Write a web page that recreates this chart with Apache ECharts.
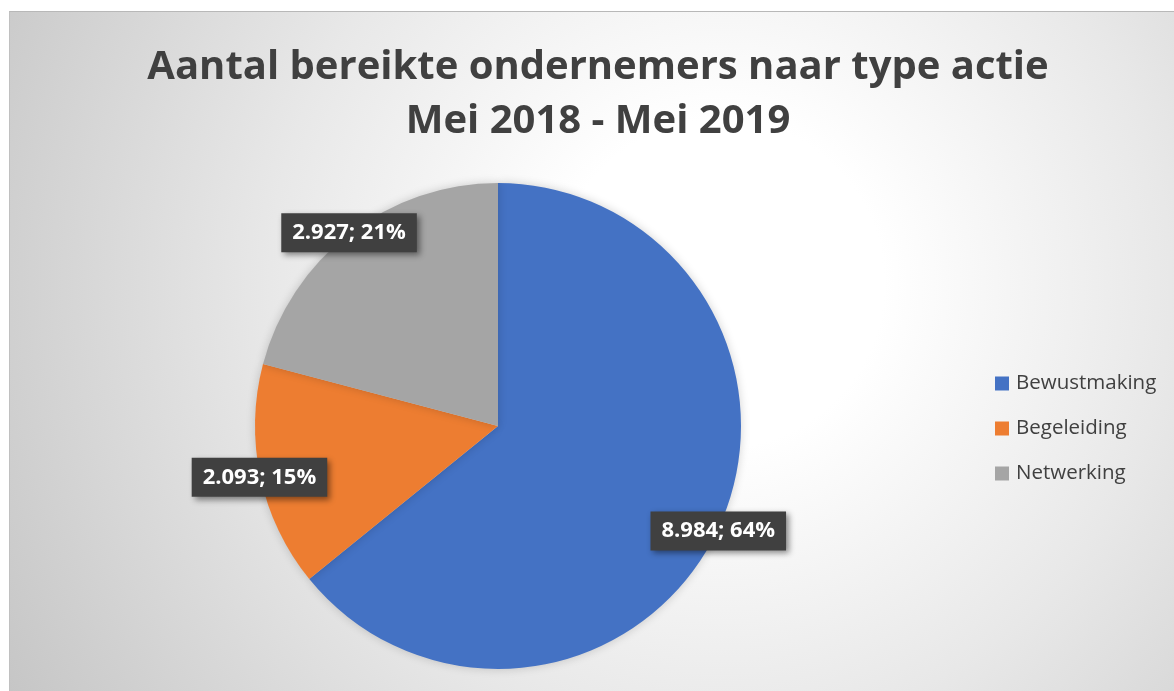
<!DOCTYPE html>
<html>
<head>
<meta charset="utf-8">
<script src="https://cdn.jsdelivr.net/npm/echarts@6/dist/echarts.min.js"></script>
<style>
  html, body { margin: 0; padding: 0; background: #fff; }
  #chart {
    position: absolute;
    left: 9px;
    top: 11px;
    width: 1165px;
    height: 680px;
    border-top: 1px solid #b8b8b8;
    border-left: 1px solid #c0c0c0;
    box-sizing: border-box;
    background: radial-gradient(circle at 61% 40%, #ffffff 0%, #ffffff 20%, #e8e8e8 55%, #c6c6c6 100%);
  }
</style>
</head>
<body>
<div id="chart"></div>
<script>
// chart data
const categories = ['Bewustmaking', 'Begeleiding', 'Netwerking']
const values = [8984, 2093, 2927]
const colors = ['#4472C4', '#ED7D31', '#A5A5A5']

const fmt = (v) => String(v).replace(/\B(?=(\d{3})+(?!\d))/g, '.')
const pieData = categories.map((name, i) => ({ name: name, value: values[i] }))

const chart = echarts.init(document.getElementById('chart'))
chart.setOption({
  backgroundColor: 'transparent',
  color: colors,
  title: {
    text: 'Aantal bereikte ondernemers naar type actie\nMei 2018 - Mei 2019',
    left: 588,
    top: 29,
    padding: 0,
    textAlign: 'center',
    textStyle: {
      fontFamily: 'Open Sans',
      fontWeight: 'bold',
      fontSize: 40,
      lineHeight: 54,
      color: '#404040'
    }
  },
  legend: {
    orient: 'vertical',
    left: 980,
    top: 356,
    itemWidth: 14,
    itemHeight: 14,
    itemGap: 24,
    icon: 'rect',
    data: categories,
    textStyle: {
      fontFamily: 'Open Sans',
      fontSize: 20.5,
      color: '#404040',
      padding: [0, 0, 0, 2]
    }
  },
  series: [
    {
      type: 'pie',
      center: [488, 414],
      radius: [0, 243],
      startAngle: 90,
      clockwise: true,
      silent: true,
      label: { show: false },
      labelLine: { show: false },
      itemStyle: {
        borderWidth: 0,
        shadowBlur: 10,
        shadowColor: 'rgba(0,0,0,0.18)'
      },
      data: pieData
    },
    {
      // transparent twin pie: puts the labels at the rim of the visible pie
      type: 'pie',
      center: [488, 414],
      radius: [0, 482],
      startAngle: 90,
      clockwise: true,
      silent: true,
      itemStyle: { color: 'rgba(0,0,0,0)' },
      labelLine: { show: false },
      label: {
        show: true,
        position: 'inside',
        formatter: (p) => fmt(p.value) + '; ' + Math.round(p.percent) + '%',
        fontFamily: 'Open Sans',
        fontWeight: 'bold',
        fontSize: 22,
        color: '#ffffff',
        backgroundColor: '#404040',
        padding: [9, 11, 8, 11],
        shadowColor: 'rgba(0,0,0,0.45)',
        shadowBlur: 6,
        shadowOffsetX: 3,
        shadowOffsetY: 3
      },
      data: pieData
    }
  ]
})
</script>
</body>
</html>
